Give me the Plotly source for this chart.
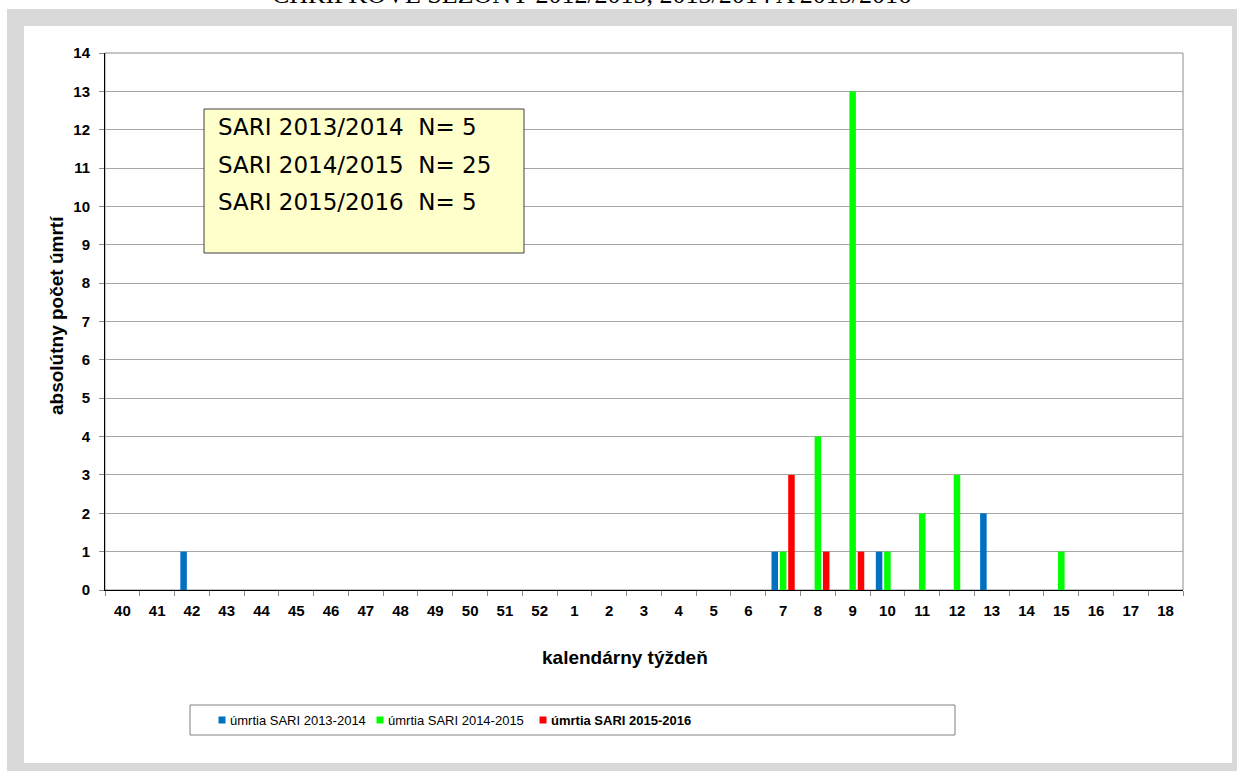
import plotly.graph_objects as go

weeks = [str(w) for w in list(range(40, 53)) + list(range(1, 19))]
series_names = ["úmrtia SARI 2013-2014", "úmrtia SARI 2014-2015", "úmrtia SARI 2015-2016"]
series_bold = [False, False, True]
colors = ["#0070C0", "#00FF00", "#FF0000"]

deaths_1314 = {"42": 1, "7": 1, "10": 1, "13": 2}
deaths_1415 = {"7": 1, "8": 4, "9": 13, "10": 1, "11": 2, "12": 3, "15": 1}
deaths_1516 = {"7": 3, "8": 1, "9": 1}

box_lines = ["SARI 2013/2014  N= 5", "SARI 2014/2015  N= 25", "SARI 2015/2016  N= 5"]
title_text = "CHRÍPKOVÉ SEZÓNY 2012/2013, 2013/2014 A 2015/2016"

W, H = 1237, 771
L, R, T, B = 105, 1183, 53, 590


def px(x):
    return (x - L) / (R - L)


def py(y):
    return (B - y) / (B - T)


ARIAL = "Arial, Liberation Sans, sans-serif"

fig = go.Figure()
for name, col, d in zip(series_names, colors, [deaths_1314, deaths_1415, deaths_1516]):
    fig.add_trace(go.Bar(
        x=weeks, y=[d.get(w, 0) for w in weeks], name=name,
        marker=dict(color=col, line=dict(width=0)), showlegend=False,
    ))

shapes = [
    dict(type="rect", xref="paper", yref="paper", x0=px(7), x1=px(1245), y0=py(9), y1=py(780),
         fillcolor="#D9D9D9", line=dict(width=0), layer="below"),
    dict(type="rect", xref="paper", yref="paper", x0=px(24), x1=px(1232), y0=py(26), y1=py(763),
         fillcolor="white", line=dict(width=0), layer="below"),
    dict(type="rect", xref="paper", yref="paper", x0=0, x1=1, y0=0, y1=1,
         line=dict(color="#8C8C8C", width=1), layer="below"),
    # legend box
    dict(type="rect", xref="paper", yref="paper", x0=px(190), x1=px(955), y0=py(705), y1=py(735),
         line=dict(color="#808080", width=1), fillcolor="white", layer="below"),
    # text box
    dict(type="rect", xref="paper", yref="paper", x0=px(204), x1=px(524), y0=py(109), y1=py(253),
         line=dict(color="#404040", width=1), fillcolor="#FFFFCC", layer="above"),
]

annotations = [
    dict(text=title_text, xref="paper", yref="paper", x=px(591), y=py(-6), xanchor="center",
         yanchor="middle", showarrow=False,
         font=dict(family="Times New Roman, Liberation Serif, serif", size=26, color="black")),
    dict(text="<b>absolútny počet úmrtí</b>", xref="paper", yref="paper", x=px(56), y=py(316),
         xanchor="center", yanchor="middle", textangle=-90, showarrow=False,
         font=dict(family=ARIAL, size=19, color="black")),
    dict(text="<b>kalendárny týždeň</b>", xref="paper", yref="paper", x=px(625), y=py(657),
         xanchor="center", yanchor="middle", showarrow=False,
         font=dict(family=ARIAL, size=19, color="black")),
]
for i, line in enumerate(box_lines):
    annotations.append(dict(text=line.replace(" ", "\u00a0"), xref="paper", yref="paper",
                            x=px(216), y=py(127 + 37.5 * i),
                            xanchor="left", yanchor="middle", showarrow=False,
                            font=dict(family="DejaVu Sans, sans-serif", size=23, color="black")))

# manual legend inside the legend box
legend_x = [222, 380, 543]
for xpos, name, col, bold in zip(legend_x, series_names, colors, series_bold):
    shapes.append(dict(type="rect", xref="paper", yref="paper",
                       x0=px(xpos - 3.5), x1=px(xpos + 3.5), y0=py(716.5), y1=py(723.5),
                       fillcolor=col, line=dict(width=0), layer="above"))
    annotations.append(dict(text=f"<b>{name}</b>" if bold else name, xref="paper", yref="paper",
                            x=px(xpos + 6), y=py(720), xanchor="left", yanchor="middle",
                            showarrow=False, font=dict(family=ARIAL, size=13, color="black")))

fig.update_layout(
    width=W, height=H,
    margin=dict(l=L, r=W - R, t=T, b=H - B, pad=0),
    paper_bgcolor="white", plot_bgcolor="white",
    barmode="group", bargap=0.28, bargroupgap=0.22,
    shapes=shapes, annotations=annotations,
    showlegend=False,
    xaxis=dict(
        type="category", tickson="boundaries", ticks="outside", ticklen=5, tickcolor="#8C8C8C",
        showline=True, linecolor="black", linewidth=1, showgrid=False,
        tickfont=dict(family=ARIAL, size=15, color="black", weight="bold"),
        ticklabelstandoff=7,
    ),
    yaxis=dict(
        range=[0, 14], dtick=1, ticks="outside", ticklen=5, tickcolor="#8C8C8C",
        showline=True, linecolor="black", linewidth=1,
        showgrid=True, gridcolor="#A6A6A6", gridwidth=1, zeroline=False,
        tickfont=dict(family=ARIAL, size=15, color="black", weight="bold"),
        ticklabelstandoff=6,
    ),
)

fig.write_html("out.html", config={"displayModeBar": False},
               post_script="document.body.style.margin='0px';document.body.style.overflow='hidden';")
